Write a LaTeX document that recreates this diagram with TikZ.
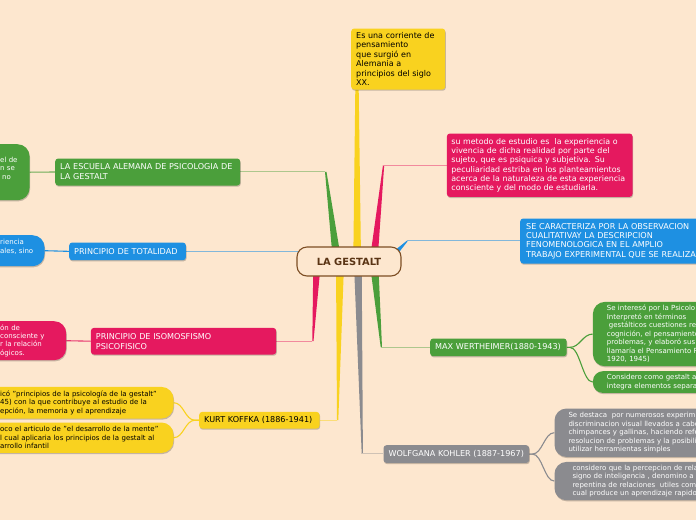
\documentclass[tikz,border=0pt]{standalone}
\usepackage{fontspec}
\setmainfont{DejaVu Sans}
\usetikzlibrary{shadows,calc,backgrounds}
\definecolor{bg}{HTML}{FDE7CF}
\definecolor{cgreen}{HTML}{4B9F3B}
\definecolor{cpink}{HTML}{E5195F}
\definecolor{cblue}{HTML}{1E90E2}
\definecolor{cyellow}{HTML}{F9D21F}
\definecolor{cgray}{HTML}{8B8B8F}
\definecolor{cbrown}{HTML}{7D4E24}
\definecolor{ctext}{HTML}{5A3414}
\tikzset{
  box/.style={anchor=north west, align=left, inner ysep=0pt,
    drop shadow={shadow xshift=0.6pt, shadow yshift=-1.2pt, opacity=0.22, fill=black}},
  mainbox/.style={box, rounded corners=3pt, inner xsep=5pt, font=\fontsize{8.1}{10}\selectfont},
  leafbox/.style={box, rounded corners=12pt, inner xsep=14pt, font=\fontsize{7}{8.5}\selectfont},
  thinline/.style={line width=0.9pt},
  twig/.style={line width=1.1pt},
}
\begin{document}
\begin{tikzpicture}[x=1pt,y=-1pt]
\useasboundingbox (0,0) rectangle (696,520);
\clip (0,0) rectangle (696,520);
\coordinate (gc) at (349,261.5);
% central node
\node[draw=cbrown, line width=1.1pt, fill=bg, rounded corners=10pt, minimum width=104pt,
  minimum height=29pt, inner sep=0pt, text=ctext, font=\fontsize{9.9}{12}\selectfont\bfseries] (cg) at (gc) {LA GESTALT};
% top yellow
\node[box, rounded corners=3pt, inner xsep=5pt, fill=cyellow, text=black, font=\fontsize{8}{9.4}\selectfont,
  text width=84pt, minimum height=61pt] (ytop) at (351,28.3)
  {Es una corriente de\\pensamiento\\que surgió en\\Alemania a\\principios del siglo\\XX.};
% pink right
\node[box, rounded corners=3pt, inner xsep=4.5pt, fill=cpink, text=white, font=\fontsize{7.9}{9.3}\selectfont,
  text width=176.6pt, minimum height=63.4pt] (pr) at (446.7,133.3)
  {su metodo de estudio es\ \ la experiencia o\\vivencia de dicha realidad por parte del\\sujeto, que es psiquica y subjetiva. Su\\peculiaridad estriba en los planteamientos\\acerca de la naturaleza de esta experiencia\\consciente y del modo de estudiarla.};
% blue right
\node[box, rounded corners=3pt, inner xsep=6pt, fill=cblue, text=white, font=\fontsize{8.1}{9.4}\selectfont,
  text width=200pt, minimum height=45pt] (br) at (520,218.3)
  {SE CARACTERIZA POR LA OBSERVACION\\CUALITATIVAY LA DESCRIPCION\\FENOMENOLOGICA EN EL AMPLIO\\TRABAJO EXPERIMENTAL QUE SE REALIZA};
% green right
\node[mainbox, fill=cgreen, text=white, text width=126.5pt, minimum height=17.7pt] (gm) at (430,338.3) {MAX~WERTHEIMER(1880-1943)};
\node[leafbox, fill=cgreen, text=white, text width=172pt, minimum height=64.3pt] (gc1) at (592.7,301.7)
  {Se interesó por la Psicolo\\Interpretó en términos\\\hspace*{2pt}gestálticos cuestiones re\\cognición, el pensamiento\\problemas, y elaboró sus\\llamaría el Pensamiento P\\1920, 1945)};
\node[leafbox, rounded corners=10pt, fill=cgreen, text=white, text width=172pt, minimum height=21.7pt] (gc2) at (592.7,371)
  {Considero como gestalt a\\integra elementos separa};
% gray
\node[mainbox, fill=cgray, text=white, text width=135.7pt, minimum height=17.7pt] (km) at (383.3,445) {WOLFGANA~KOHLER~(1887-1967)};
\node[leafbox, fill=cgray, text=white, text width=172pt, minimum height=48.4pt] (kc1) at (554.3,408.3)
  {Se destaca\ \ por numerosos experim\\discriminacion visual llevados a cabo\\chimpances y gallinas, haciendo refe\\resolucion de problemas y la posibili\\utilizar herramientas simples};
\node[leafbox, inner xsep=18pt, fill=cgray, text=white, text width=164pt, minimum height=38.3pt] (kc2) at (554.3,461.7)
  {considero que la percepcion de rela\\signo de inteligencia , denomino a\\repentina de relaciones\ \ utiles com\\cual produce un aprendizaje rapido};
% yellow left
\node[mainbox, fill=cyellow, text=black, text width=110.3pt, minimum height=16.6pt] (kk) at (199,411.7) {KURT~KOFFKA~(1886-1941)};
\node[leafbox, fill=cyellow, text=black, text width=159.3pt, minimum height=31.6pt] (yk1) at (-14,386.7)
  {icó "principios de la psicología de la gestalt"\\45) con la que contribuye al estudio de la\\epción, la memoria y el aprendizaje};
\node[leafbox, fill=cyellow, text=black, text width=159.3pt, minimum height=30.4pt] (yk2) at (-14,422.3)
  {oco el articulo de "el desarrollo de la mente"\\l cual aplicaria los principios de la gestalt al\\arrollo infantil};
% pink left
\node[mainbox, fill=cpink, text=white, text width=175.3pt, minimum height=26.6pt] (pm) at (90.7,327.7) {PRINCIPIO DE ISOMOSFISMO\\PSICOFISICO};
\node[leafbox, fill=cpink, text=white, font=\fontsize{7}{8.2}\selectfont, text width=52pt, minimum height=39pt] (pc) at (-14,321)
  {ón~de\\consciente~y\\r~la~relación\\ógicos.};
% blue left
\node[mainbox, fill=cblue, text=white, text width=106.7pt, minimum height=17.7pt] (bm) at (69,242.3) {PRINCIPIO~DE~TOTALIDAD};
\node[leafbox, fill=cblue, text=white, font=\fontsize{7}{9}\selectfont, text width=30.3pt, minimum height=31pt] (bc) at (-14,235)
  {riencia\\ales,~sino\\\mbox{}};
% green left
\node[mainbox, fill=cgreen, text=white, text width=175pt, minimum height=27pt] (gl) at (55,158.3) {LA ESCUELA ALEMANA DE PSICOLOGIA DE\\LA GESTALT};
\node[leafbox, fill=cgreen, text=white, font=\fontsize{7}{8.4}\selectfont, text width=15.3pt, minimum height=56pt] (glc) at (-14,144)
  {el~de\\n~se\\\hspace*{2pt}no\\\mbox{}};
% connectors
\begin{pgfonlayer}{background}
\fill[bg] (0,0) rectangle (696,520);
% tips
\coordinate (tgl) at (325,171.8);
\coordinate (tyt) at ($(ytop.south west)+(4.3,0)$);
\coordinate (tpr) at (383,165);
\coordinate (tbr) at (406.7,240.8);
\coordinate (tbl) at (300,251.2);
\coordinate (tgr) at (380.7,347.2);
\coordinate (tpl) at (312.3,341);
\coordinate (tyl) at (337,420);
\coordinate (tkr) at (361.7,453.9);
% green left
\fill[cgreen] ($(gc)+(-16.3,-3)$) -- (tgl) -- ++(1.5,0) -- ($(gc)+(-8,-3)$) -- cycle;
\draw[thinline, cgreen!45!bg] (tgl) -- (tgl -| gl.east);
% yellow top
\fill[cyellow] ($(gc)+(4.3,-3)$) -- (tyt) -- ++(3.4,0) -- ($(gc)+(12,-3)$) -- cycle;
% pink right
\fill[cpink] ($(gc)+(21,-3)$) -- (tpr) -- ++(1.2,0) -- ($(gc)+(28.7,-3)$) -- cycle;
\draw[thinline, cpink!45!bg] (tpr) -- (tpr -| pr.west);
% blue right
\fill[cblue] ($(gc)+(42,-8)$) -- (tbr) -- ++(0.8,0.6) -- ($(gc)+(49,-8)$) -- cycle;
\draw[thinline, cblue!55!bg] (tbr) -- (tbr -| br.west);
% blue left
\draw[thinline, cblue!55!bg] (tbl) -- (tbl -| bm.east);
% green right
\fill[cgreen] ($(gc)+(21,3)$) -- (tgr) -- ++(1.3,0) -- ($(gc)+(29.3,3)$) -- cycle;
\draw[thinline, cgreen!45!bg] (tgr) -- (tgr -| gm.west);
% pink left
\fill[cpink] ($(gc)+(-35.7,3)$) -- (tpl) -- ++(1.2,0) -- ($(gc)+(-28.3,3)$) -- cycle;
\draw[thinline, cpink!45!bg] (tpl) -- (tpl -| pm.east);
% yellow left
\fill[cyellow] ($(gc)+(-13,3)$) -- (tyl) -- ++(1.3,0) -- ($(gc)+(-5,3)$) -- cycle;
\draw[thinline, cyellow!50!bg] (tyl) -- (tyl -| kk.east);
% gray
\fill[cgray] ($(gc)+(5,3)$) -- (tkr) -- ++(1.2,0) -- ($(gc)+(12.7,3)$) -- cycle;
\draw[thinline, cgray!40!bg] (tkr) -- (tkr -| km.west);
% child links
\draw[twig, cgreen!80!bg] (gl.west) -- (glc.east);
\draw[twig, cblue] (bm.west) -- (bc.east);
\draw[twig, cpink!85!bg] (pm.west) -- (pc.east);
\draw[twig, cyellow] (kk.west) -- ++(-4,0) .. controls +(-10,0) and +(10,0) .. (yk1.east);
\draw[twig, cyellow] (kk.west) -- ++(-4,0) .. controls +(-10,0) and +(10,0) .. (yk2.east);
\draw[twig, cgreen] (gm.east) -- ++(3,0) .. controls +(10,0) and +(-10,0) .. (gc1.west);
\draw[twig, cgreen] (gm.east) -- ++(3,0) .. controls +(10,0) and +(-10,0) .. (gc2.west);
\draw[twig, cgray] (km.east) -- ++(3,0) .. controls +(10,0) and +(-10,0) .. (kc1.west);
\draw[twig, cgray] (km.east) -- ++(3,0) .. controls +(10,0) and +(-10,0) .. (kc2.west);
\end{pgfonlayer}
\end{tikzpicture}
\end{document}
